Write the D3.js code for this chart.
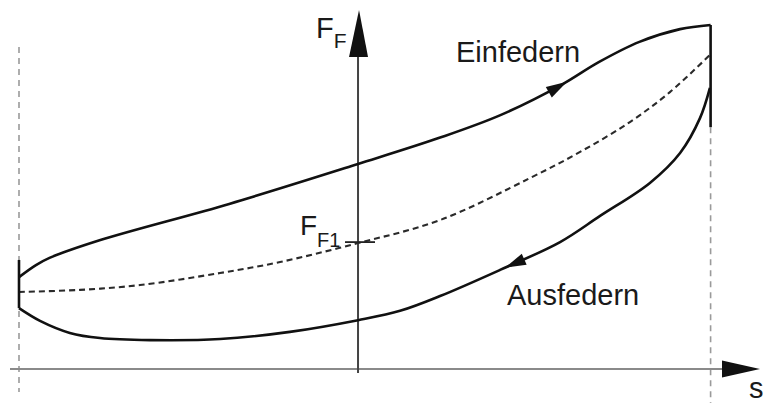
<!DOCTYPE html>
<html lang="de">
<head>
<meta charset="utf-8">
<title>Federkennlinie Hysterese</title>
<script src="https://cdn.jsdelivr.net/npm/d3@7"></script>
<style>
  body { margin: 0; background: #fff; }
  svg { display: block; }
  .lbl { font-family: "Liberation Sans", Arial, Helvetica, sans-serif; fill: #1a1a1a; }
</style>
</head>
<body>
<div id="chart"></div>
<script>
// hysteresis loop of a spring, s = travel, F = spring force (arbitrary units)
var einfedern_s = [-100, -95, -91, -76, -38, 0, 24, 42, 60, 71, 83, 95, 104];
var einfedern_F = [26.7, 30.2, 32.3, 37.5, 48.0, 59.6, 67.2, 73.8, 82.6, 89.2, 95.1, 98.8, 100];

var ausfedern_s = [103.8, 100.9, 95.0, 86.1, 71.4, 59.6, 41.9, 24.2, 12.4, 0, -20.1, -40.7, -61.4, -76.1, -85.0, -93.8, -100];
var ausfedern_F = [81.7, 73.0, 62.8, 54.1, 44.5, 36.9, 28.8, 21.2, 16.9, 14.2, 10.8, 8.7, 8.4, 9.0, 10.5, 14.0, 17.7];

var mitte_s = [-100, -82, -64.3, -40.7, -23, 0, 24.2, 50.7, 65.5, 80.2, 92, 103.8];
var mitte_F = [22.4, 23.0, 24.4, 27.9, 31.1, 36.6, 43.3, 55.5, 63.1, 71.8, 80.5, 91.3];

var sMin = -100, sMax = 104;        // end stops
var leftStop_F = [31.7, 17.7];      // solid part at left stop
var rightStop_F = [100, 70.3];      // solid part at right stop
var FF1 = 36.6;                     // preload force F_F1

var width = 763, height = 403;

var x = d3.scaleLinear().domain([sMin, sMax]).range([19, 710.6]);
var y = d3.scaleLinear().domain([0, 100]).range([369, 25]);

var svg = d3.select("#chart").append("svg")
  .attr("width", width)
  .attr("height", height);

function pts(sArr, fArr) {
  return sArr.map(function(s, i) { return [s, fArr[i]]; });
}

var line = d3.line()
  .x(function(d) { return x(d[0]); })
  .y(function(d) { return y(d[1]); })
  .curve(d3.curveCatmullRom.alpha(0.5));

// dashed guide lines at the end stops
svg.append("line")
  .attr("x1", x(sMin)).attr("x2", x(sMin))
  .attr("y1", 47).attr("y2", 392)
  .attr("stroke", "#9a9a9a").attr("stroke-width", 1.6)
  .attr("stroke-dasharray", "6,5");
svg.append("line")
  .attr("x1", x(sMax)).attr("x2", x(sMax))
  .attr("y1", y(rightStop_F[1])).attr("y2", height)
  .attr("stroke", "#9a9a9a").attr("stroke-width", 1.6)
  .attr("stroke-dasharray", "6,5");

// s axis
svg.append("line")
  .attr("x1", 10).attr("x2", 724)
  .attr("y1", y(0)).attr("y2", y(0))
  .attr("stroke", "#8a8a8a").attr("stroke-width", 2);
svg.append("path")
  .attr("d", "M722," + (y(0) - 8.5) + "L760," + y(0) + "L722," + (y(0) + 8.5) + "Z")
  .attr("fill", "#111");

// F axis
svg.append("line")
  .attr("x1", x(0)).attr("x2", x(0))
  .attr("y1", 373).attr("y2", 55)
  .attr("stroke", "#444").attr("stroke-width", 2);
svg.append("path")
  .attr("d", "M" + (x(0) - 9) + ",57L" + (x(0) + 1) + ",10L" + (x(0) + 10) + ",57Z")
  .attr("fill", "#111");

// mean line (dashed)
svg.append("path")
  .attr("d", line(pts(mitte_s, mitte_F)))
  .attr("fill", "none")
  .attr("stroke", "#2a2a2a").attr("stroke-width", 2.1)
  .attr("stroke-dasharray", "6,4");

// F_F1 tick
svg.append("line")
  .attr("x1", x(0) - 13).attr("x2", x(0) + 17)
  .attr("y1", y(FF1) - 1).attr("y2", y(FF1) - 1)
  .attr("stroke", "#222").attr("stroke-width", 1.8);

// loop
var up = svg.append("path")
  .attr("d", line(pts(einfedern_s, einfedern_F)))
  .attr("fill", "none").attr("stroke", "#111").attr("stroke-width", 2.6);
var down = svg.append("path")
  .attr("d", line(pts(ausfedern_s, ausfedern_F)))
  .attr("fill", "none").attr("stroke", "#111").attr("stroke-width", 2.6);

svg.append("line")
  .attr("x1", x(sMin)).attr("x2", x(sMin))
  .attr("y1", y(leftStop_F[0])).attr("y2", y(leftStop_F[1]))
  .attr("stroke", "#111").attr("stroke-width", 2.6);
svg.append("line")
  .attr("x1", x(sMax)).attr("x2", x(sMax))
  .attr("y1", y(rightStop_F[0])).attr("y2", y(rightStop_F[1]))
  .attr("stroke", "#111").attr("stroke-width", 2.6);

// direction arrows on the curves
function arrowAt(path, px) {
  var node = path.node(), L = node.getTotalLength();
  var lo = 0, hi = L;
  var inc = node.getPointAtLength(L).x > node.getPointAtLength(0).x;
  for (var k = 0; k < 40; k++) {
    var mid = (lo + hi) / 2;
    var p = node.getPointAtLength(mid);
    if ((p.x < px) === inc) lo = mid; else hi = mid;
  }
  var tip = node.getPointAtLength(lo);
  var back = node.getPointAtLength(Math.max(0, lo - 4));
  var a = Math.atan2(tip.y - back.y, tip.x - back.x);
  var len = 21, hw = 6;
  var bx = tip.x - len * Math.cos(a), by = tip.y - len * Math.sin(a);
  var nx = -Math.sin(a) * hw, ny = Math.cos(a) * hw;
  svg.append("path")
    .attr("d", "M" + tip.x + "," + tip.y + "L" + (bx + nx) + "," + (by + ny) +
               "L" + (bx - nx) + "," + (by - ny) + "Z")
    .attr("fill", "#111");
}
arrowAt(up, 567);
arrowAt(down, 505);

// labels
var tF = svg.append("text").attr("class", "lbl").attr("x", 316).attr("y", 38).style("font-size", "29px");
tF.append("tspan").text("F");
tF.append("tspan").attr("dy", 10).style("font-size", "21px").text("F");

var tF1 = svg.append("text").attr("class", "lbl").attr("x", 300).attr("y", 235).style("font-size", "28px");
tF1.append("tspan").text("F");
tF1.append("tspan").attr("dy", 12).style("font-size", "20px").text("F1");

svg.append("text").attr("class", "lbl")
  .attr("x", 456).attr("y", 62).style("font-size", "29px").text("Einfedern");
svg.append("text").attr("class", "lbl")
  .attr("x", 507).attr("y", 305).style("font-size", "29px").text("Ausfedern");
svg.append("text").attr("class", "lbl")
  .attr("x", 749).attr("y", 398).style("font-size", "29px").text("s");
</script>
</body>
</html>
